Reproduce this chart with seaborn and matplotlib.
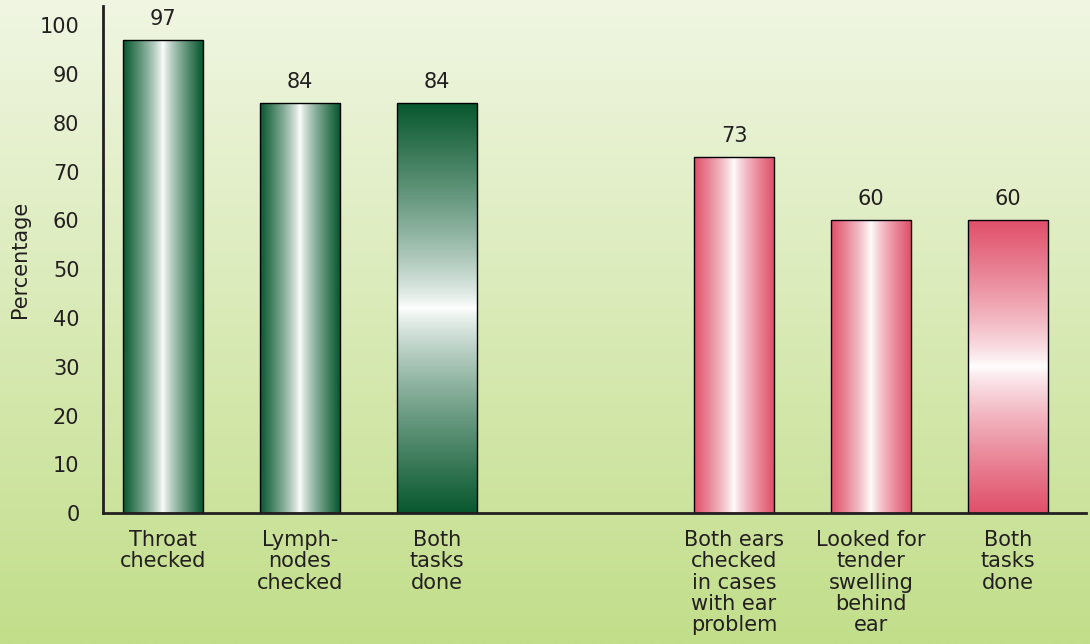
import numpy as np
import pandas as pd
import matplotlib.pyplot as plt
import seaborn as sns
from matplotlib.colors import to_rgb

# Данные
categories = ["Throat\nchecked", "Lymph-\nnodes\nchecked", "Both\ntasks\ndone",
              "Both ears\nchecked\nin cases\nwith ear\nproblem",
              "Looked for\ntender\nswelling\nbehind\near", "Both\ntasks\ndone"]
values = [97, 84, 84, 73, 60, 60]
groups = ["throat", "throat", "throat", "ear", "ear", "ear"]
y_ticks = [0, 10, 20, 30, 40, 50, 60, 70, 80, 90, 100]

# Оформление
group_gap = 1.17
xpos = [i + (group_gap if g == "ear" else 0) for i, g in enumerate(groups)]
directions = ["h", "h", "v", "h", "h", "v"]
dark = {"throat": "#08582f", "ear": "#e0506a"}
text_color = "#231f20"

sns.set_theme(style="white")
plt.rcParams['font.family'] = ['DejaVu Sans']

fig = plt.figure(figsize=(10.9, 6.44), dpi=100)

# фон с градиентом
bg = fig.add_axes([0, 0, 1, 1], zorder=-10)
top_c = np.array(to_rgb("#f0f6e2"))
bot_c = np.array(to_rgb("#c2de8a"))
t = np.linspace(0, 1, 256)[:, None, None]
grad = top_c * (1 - t) + bot_c * t
bg.imshow(grad, aspect="auto", extent=[0, 1, 0, 1])
bg.set_axis_off()

ax = fig.add_axes([0.0945, 0.2034, 0.9018, 0.7873])
ax.patch.set_alpha(0)

df = pd.DataFrame({"x": xpos, "value": values})
sns.barplot(data=df, x="x", y="value", native_scale=True, width=0.584,
            color="white", edgecolor="black", linewidth=1.0, ax=ax)


def gradient(color, direction, n=256):
    c = np.array(to_rgb(color))
    u = np.abs(np.linspace(-1, 1, n)) ** 0.8
    col = 1 - (1 - c) * u[:, None]
    if direction == "h":
        return col[None, :, :]
    return col[:, None, :]


for patch, g, d, v in zip(ax.patches, groups, directions, values):
    x0 = patch.get_x()
    w = patch.get_width()
    h = patch.get_height()
    ax.imshow(gradient(dark[g], d), aspect="auto", extent=[x0, x0 + w, 0, h],
              zorder=1.5, interpolation="bicubic")
    patch.set_facecolor("none")
    patch.set_zorder(2)
    ax.text(x0 + w / 2, h + 2.3, f"{v}", ha="center", va="bottom",
            fontsize=15, color=text_color)

ax.set_xlim(-0.438, 6.74)
ax.set_ylim(0, 104)
ax.set_yticks(y_ticks)
ax.set_xticks(xpos)
ax.set_xticklabels(categories, linespacing=1.09)
ax.tick_params(axis="y", length=0, pad=17, labelsize=15, labelcolor=text_color)
ax.tick_params(axis="x", length=0, pad=12, labelsize=15, labelcolor=text_color)
ax.set_xlabel("")
ax.set_ylabel("Percentage", fontsize=15, color=text_color, labelpad=7)

for side in ["top", "right"]:
    ax.spines[side].set_visible(False)
for side in ["left", "bottom"]:
    ax.spines[side].set_color(text_color)
    ax.spines[side].set_linewidth(2)

plt.savefig("out.png", dpi=100)
